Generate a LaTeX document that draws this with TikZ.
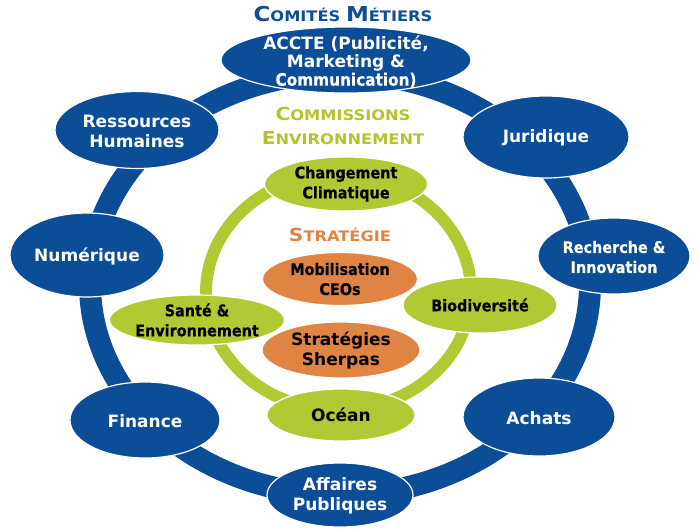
\documentclass[tikz,border=0pt]{standalone}
\usepackage{fontspec}
\usetikzlibrary{shapes.geometric}
\setmainfont{DejaVu Sans}
\newfontfamily\vfnt{DejaVu Sans}
\newfontfamily\cfnt{DejaVu Sans Condensed}[FakeBold=0.5]
\newfontfamily\tfnt{DejaVu Sans}[FakeStretch=1.12]
\definecolor{myblue}{RGB}{12,77,152}
\definecolor{mygreen}{RGB}{178,201,52}
\definecolor{myorange}{RGB}{224,132,68}
\definecolor{titlegreen}{RGB}{180,196,40}
\newcommand\BigCap[2]{{\fontsize{#1}{22}\selectfont #2}}
\tikzset{
  ell/.style={ellipse, draw=white, line width=1.2pt, inner sep=0pt},
  blueell/.style={ell, fill=myblue},
  greenell/.style={ell, fill=mygreen},
  orangeell/.style={ell, fill=myorange},
  vtxt/.style={align=center, inner sep=0pt, font=\vfnt\bfseries\fontsize{17}{20}\selectfont},
  ctxt/.style={align=center, inner sep=0pt, font=\cfnt\bfseries\fontsize{16}{20}\selectfont},
  ttl/.style={inner sep=0pt, font=\tfnt\bfseries\fontsize{14.5}{18}\selectfont},
}
\begin{document}
\begin{tikzpicture}[x=1pt,y=-1pt]
\useasboundingbox (0,0) rectangle (700,528);
% rings
\draw[myblue, line width=22pt] (340,284) ellipse [x radius=250pt, y radius=211pt];
\draw[mygreen, line width=12pt] (338.5,292) ellipse [x radius=132.5pt, y radius=118pt];
% blue ellipses
\node[blueell, minimum width=250pt, minimum height=66pt] (accte) at (346,60) {};
\node[blueell, minimum width=164pt, minimum height=77pt] (rh) at (137,130) {};
\node[blueell, minimum width=154pt, minimum height=84pt] (num) at (87,255) {};
\node[blueell, minimum width=150pt, minimum height=76pt] (fin) at (145,420) {};
\node[blueell, minimum width=146pt, minimum height=64pt] (ap) at (340,495) {};
\node[blueell, minimum width=152pt, minimum height=78pt] (ach) at (539,417) {};
\node[blueell, minimum width=152pt, minimum height=76pt] (ri) at (614,256) {};
\node[blueell, minimum width=166pt, minimum height=82pt] (jur) at (546,137) {};
\node[vtxt, text=white, font=\vfnt\bfseries\fontsize{17}{18}\selectfont] at ([yshift=-2pt]accte.center) {ACCTE (Publicité,\\Marketing \&\\{\cfnt\bfseries Communication)}};
\node[vtxt, text=white] at ([yshift=-1pt]rh.center) {Ressources\\Humaines};
\node[vtxt, text=white] at ([yshift=-1pt]num.center) {Numérique};
\node[vtxt, text=white] at ([yshift=-1pt]fin.center) {Finance};
\node[vtxt, text=white] at ([yshift=-1pt]ap.center) {Affaires\\Publiques};
\node[vtxt, text=white] at ([yshift=-1pt]ach.center) {Achats};
\node[ctxt, text=white] at ([yshift=-1pt]ri.center) {Recherche \&\\Innovation};
\node[vtxt, text=white] at ([yshift=-1pt]jur.center) {Juridique};
% green ellipses
\node[greenell, minimum width=163pt, minimum height=54pt] (cc) at (346,184) {};
\node[greenell, minimum width=175pt, minimum height=50pt] (se) at (197,320) {};
\node[greenell, minimum width=154pt, minimum height=56pt] (bio) at (480,305) {};
\node[greenell, minimum width=148pt, minimum height=52pt] (oc) at (341,415) {};
\node[ctxt] at (cc) {Changement\\Climatique};
\node[ctxt] at (se) {Santé \&\\Environnement};
\node[ctxt] at (bio) {Biodiversité};
\node[vtxt] at (oc) {Océan};
% orange ellipses
\node[orangeell, minimum width=155pt, minimum height=53pt] (mob) at (340,279) {};
\node[orangeell, minimum width=158pt, minimum height=56pt] (sh) at (341,350) {};
\node[ctxt] at (mob) {Mobilisation\\CEOs};
\node[vtxt] at (sh) {Stratégies\\Sherpas};
% titles
\node[ttl, text=myblue] (t1) at (343,14) {\BigCap{20.5}{C}OMITÉS \BigCap{20.5}{M}ÉTIERS};
\node[ttl, text=titlegreen] (t2) at (343,114) {\BigCap{18}{C}OMMISSIONS};
\node[ttl, text=titlegreen] (t3) at (343,138) {\BigCap{18}{E}NVIRONNEMENT};
\node[ttl, text=myorange] (t4) at (340,235) {\BigCap{18}{S}TRATÉGIE};
\end{tikzpicture}
\end{document}
